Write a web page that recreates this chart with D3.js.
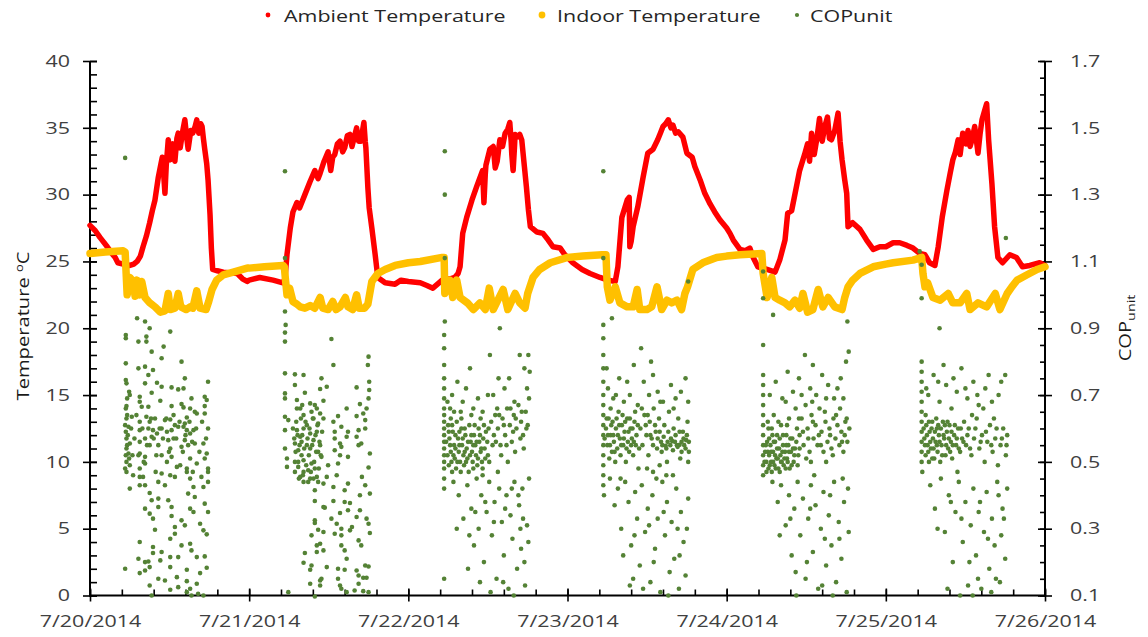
<!DOCTYPE html>
<html>
<head>
<meta charset="utf-8">
<script src="https://cdn.jsdelivr.net/npm/d3@7"></script>
<style>
  body { margin: 0; background: #fff; }
  svg { display: block; }
</style>
</head>
<body>
<svg id="chart" width="1148" height="637"></svg>
<script>
// ---------- axis labels ----------
const dayLabels = ["7/20/2014", "7/21/2014", "7/22/2014", "7/23/2014", "7/24/2014", "7/25/2014", "7/26/2014"];
const tempTicks = [0, 5, 10, 15, 20, 25, 30, 35, 40];
const copTicks = [0.1, 0.3, 0.5, 0.7, 0.9, 1.1, 1.3, 1.5, 1.7];
const seriesNames = ["Ambient Temperature", "Indoor Temperature", "COPunit"];

// ---------- ambient temperature, [hour of day, °C] ----------
const ambient0720 = [[0,27.7],[0.8,27.3],[1.5,26.8],[2.6,26.1],[3.3,25.6],[3.8,25.3],[4.2,24.9],[5,24.8],[6,24.7],[6.6,24.8],[7.1,25.0],[7.6,25.4],[8,26.1],[8.5,26.9],[9,27.9],[9.4,28.8],[9.8,29.6],[10.3,31.3],[10.7,32.3],[10.9,32.8],[11.1,31.6],[11.3,30.1],[11.5,32.2],[11.8,34.1],[12.1,32.6],[12.5,33.8],[12.8,32.5],[13.1,34.2],[13.3,34.6],[13.6,33.5],[14.0,34.8],[14.3,35.6],[14.6,34.2],[14.8,33.4],[15.2,34.8],[15.5,34.6],[15.8,35.0],[16.1,35.6],[16.4,34.6],[16.7,35.3],[16.9,35.1],[17.1,34.2],[17.3,33.4],[17.6,32.3],[17.8,31.1],[18.1,28.5],[18.3,26.0],[18.5,24.4],[19.2,24.3],[20.1,24.2],[22.2,24.1],[23.0,23.7],[23.7,23.5],[24,23.6]];
const ambient0721 = [[0,23.6],[1.6,23.8],[3.6,23.6],[5.1,23.4],[5.4,23.7],[5.7,25.5],[6.2,27.5],[6.6,28.7],[7.2,29.4],[7.6,29.0],[8.4,30.0],[9.2,31.0],[9.9,31.8],[10.4,31.2],[10.7,31.6],[11.3,32.5],[11.9,33.2],[12.3,31.8],[12.6,32.8],[12.9,33.0],[13.3,33.8],[13.7,34.0],[14.1,33.2],[14.4,33.5],[14.8,34.4],[15.2,34.5],[15.5,33.6],[15.8,34.2],[16.2,35.0],[16.5,34.0],[16.9,34.0],[17.1,34.8],[17.3,35.4],[17.5,34.0],[17.6,33.5],[17.9,30.5],[18.1,29.0],[18.5,27.5],[19.0,25.5],[19.4,23.8],[20.5,23.4],[22.0,23.3],[22.9,23.6],[24,23.5]];
const ambient0722 = [[0,23.5],[1.8,23.4],[2.8,23.2],[3.7,23.0],[4.4,23.3],[5.1,23.6],[6.3,23.7],[7.0,23.8],[7.5,24.1],[7.8,24.6],[8.2,27.1],[8.8,28.3],[9.6,29.6],[10.3,30.6],[11.2,31.8],[11.4,29.4],[11.6,31.5],[11.7,32.2],[12.3,33.4],[12.8,33.6],[13.1,32.0],[13.4,32.5],[13.8,34.1],[14.2,33.6],[14.6,34.6],[15.0,34.9],[15.3,35.4],[15.5,34.0],[15.6,33.0],[15.8,31.8],[16.0,33.5],[16.1,34.5],[16.4,34.3],[16.8,34.5],[17.1,34.1],[17.5,32.1],[17.8,30.6],[18.1,28.9],[18.4,27.6],[19.4,27.2],[20.3,27.1],[21.1,26.6],[21.8,26.1],[22.9,26.0],[23.6,25.5],[24,25.3]];
const ambient0723 = [[0,25.3],[0.8,24.9],[2.2,24.4],[3.4,24.1],[4.9,23.8],[6.1,23.6],[7.2,23.5],[7.6,24.6],[8.2,28.3],[9.0,29.6],[9.3,29.8],[9.4,26.1],[9.6,26.5],[9.9,27.6],[10.6,29.1],[11.4,31.3],[12.1,33.1],[12.9,33.4],[13.6,34.1],[14.0,34.6],[14.4,35.1],[14.8,35.3],[15.2,35.6],[15.6,35.0],[15.9,35.2],[16.3,34.6],[16.7,34.7],[17.4,34.3],[18.0,33.1],[18.8,32.8],[19.2,32.1],[20.0,31.1],[20.7,30.1],[21.5,29.3],[22.2,28.7],[23.0,28.1],[24,27.5]];
const ambient0724 = [[0,27.5],[0.5,27.1],[1.0,26.6],[2.0,25.9],[2.8,25.8],[3.5,26.0],[4.0,25.3],[4.7,24.6],[6.1,24.4],[7.3,24.2],[8.0,25.1],[8.8,26.6],[9.2,28.6],[9.8,28.8],[10.6,30.8],[11.0,31.8],[11.8,33.1],[12.2,33.8],[12.5,32.5],[12.8,34.6],[13.2,33.0],[13.6,34.2],[14.0,35.7],[14.4,34.0],[14.8,35.1],[15.2,35.8],[15.5,34.2],[15.8,34.1],[16.3,34.8],[16.8,36.1],[17.1,34.0],[17.4,32.6],[17.8,31.1],[18.1,30.1],[18.3,27.6],[19.0,27.9],[20.1,27.4],[21.1,26.6],[22.1,25.9],[23.1,26.1],[24,26.1]];
const ambient0725 = [[0,26.1],[1.1,26.4],[2.1,26.4],[3.2,26.2],[4.1,26.0],[5.1,25.6],[5.9,25.5],[6.6,24.9],[7.4,24.7],[7.9,26.1],[8.5,28.3],[9.2,30.3],[9.7,31.6],[10.1,32.6],[10.5,33.2],[10.9,34.1],[11.2,33.0],[11.6,34.6],[12.1,33.8],[12.4,34.8],[12.7,33.6],[13.0,34.1],[13.4,35.1],[13.9,33.1],[14.2,34.5],[14.5,35.6],[14.9,36.3],[15.2,36.8],[15.5,34.1],[16.0,30.8],[16.4,27.6],[16.9,25.3],[17.6,24.9],[18.7,25.5],[19.7,25.3],[20.6,24.6],[21.7,24.7],[23.2,24.9],[24,24.7]];

// ---------- indoor temperature, [hour of day, °C] ----------
const indoor0720 = [[0,25.6],[2.3,25.7],[5.0,25.8],[5.3,25.7],[5.6,22.5],[6.0,23.8],[6.5,23.5],[6.8,22.4],[7.1,23.6],[7.5,22.5],[7.8,23.5],[8.3,22.3],[9.0,21.9],[9.8,21.6],[10.6,21.2],[11.3,21.3],[11.8,22.6],[12.1,21.4],[12.8,21.5],[13.3,22.6],[13.7,21.6],[14.5,21.4],[15.1,21.6],[15.5,21.5],[16.1,22.8],[16.6,21.5],[17.5,21.4],[17.9,22.0],[18.4,22.9],[19.1,23.6],[20.1,24.0],[21.6,24.2],[23.7,24.5],[24,24.5]];
const indoor0721 = [[0,24.5],[2.3,24.6],[5.1,24.7],[5.3,24.6],[5.5,23.5],[5.7,22.5],[6.1,23.0],[6.6,22.0],[7.2,21.8],[7.7,21.6],[8.4,21.5],[9.2,21.7],[9.9,21.5],[10.7,22.3],[11.1,21.5],[11.9,21.4],[12.6,22.0],[13.1,21.4],[13.7,21.6],[14.5,22.3],[14.9,21.6],[15.6,21.4],[16.2,22.5],[16.6,21.5],[17.4,21.5],[17.9,21.8],[18.5,23.5],[19.4,24.1],[20.5,24.4],[22.0,24.7],[24,24.9]];
const indoor0722 = [[0,24.9],[1.8,25.0],[5.1,25.3],[5.4,25.3],[5.5,22.6],[6.3,23.6],[6.7,22.3],[7.3,23.6],[7.8,22.3],[8.9,21.9],[9.8,21.4],[10.8,21.9],[11.6,21.4],[12.2,23.0],[12.8,21.4],[13.5,22.1],[14.3,22.9],[15.0,21.4],[16.1,22.6],[16.8,21.9],[17.6,21.5],[18.0,22.6],[18.8,23.8],[19.8,24.4],[21.4,24.9],[24,25.3]];
const indoor0723 = [[0,25.3],[2.3,25.4],[5.2,25.5],[5.8,25.5],[6.0,23.1],[6.4,22.1],[7.2,23.1],[7.9,21.9],[9.0,21.6],[9.9,21.6],[10.5,22.9],[10.9,21.4],[12.0,21.4],[12.7,21.6],[13.5,23.1],[14.2,21.4],[15.0,22.1],[15.7,21.9],[16.5,22.1],[17.2,21.4],[17.7,22.6],[18.1,23.1],[18.9,24.4],[20.4,24.9],[22.5,25.3],[24,25.4]];
const indoor0724 = [[0,25.4],[2.0,25.5],[5.3,25.6],[5.5,24.1],[6.1,22.3],[6.8,23.8],[7.3,22.3],[8.0,22.1],[8.8,21.9],[9.5,21.6],[10.3,22.1],[11.0,21.5],[11.5,22.6],[12.2,21.2],[13.0,21.4],[13.8,22.9],[14.5,21.6],[15.3,22.3],[16.3,21.6],[17.4,21.4],[17.8,22.3],[18.3,23.1],[19.0,23.6],[20.1,24.1],[22.1,24.6],[24,24.8]];
const indoor0725 = [[0,24.8],[1.1,24.9],[4.1,25.1],[5.4,25.3],[5.6,24.1],[5.9,23.1],[6.3,23.4],[7.1,22.3],[8.2,22.1],[9.4,22.6],[10.1,21.9],[11.2,21.9],[12.2,22.6],[12.7,21.4],[13.9,21.9],[15.2,21.6],[16.5,22.6],[17.2,21.4],[18.3,22.6],[19.0,23.1],[19.8,23.6],[21.3,24.0],[22.8,24.4],[24,24.6]];

// ---------- unit COP, [hour of day, COP] ----------
const cop0720 = [[5.3,1.41],[5.4,.88],[7.1,.93],[8.3,.92],[9.0,.90],[12.1,.89],[5.4,.87],[7.3,.86],[8.5,.875],[8.5,.86],[9.3,.83],[11.1,.845],[10.8,.81],[5.4,.795],[7.3,.78],[8.3,.785],[9.5,.775],[13.8,.80],[8.8,.76],[14.3,.75],[5.4,.745],[10.1,.737],[8.3,.735],[10.8,.725],[12.3,.723],[13.3,.717],[14.1,.72],[17.8,.74],[5.5,.735],[5.9,.71],[6.0,.70],[9.3,.707],[7.5,.695],[15.3,.69],[17.3,.695],[17.6,.685],[5.5,.667],[7.5,.68],[7.8,.665],[8.8,.665],[10.6,.683],[12.3,.667],[13.8,.673],[14.1,.663],[15.1,.66],[15.8,.65],[17.3,.667],[6.3,.635],[7.5,.62],[8.5,.635],[9.0,.62],[9.8,.63],[11.3,.625],[12.1,.627],[12.8,.61],[14.3,.615],[14.6,.633],[16.1,.645],[17.3,.645],[17.8,.60],[5.3,.61],[5.8,.605],[7.5,.595],[8.8,.60],[9.5,.595],[10.1,.585],[10.8,.60],[11.6,.59],[12.3,.595],[13.3,.605],[14.1,.605],[14.6,.595],[15.1,.585],[15.6,.595],[12.6,.57],[11.8,.565],[9.3,.575],[8.3,.57],[7.5,.56],[5.5,.57],[6.0,.555],[14.3,.565],[14.8,.55],[15.8,.555],[9.0,.55],[10.3,.55],[12.1,.54],[13.8,.545],[17.1,.555],[17.6,.525],[5.5,.54],[5.8,.525],[7.5,.525],[8.3,.515],[10.8,.52],[12.3,.515],[15.1,.51],[16.1,.495],[17.3,.51],[5.5,.50],[6.0,.49],[5.3,.48],[7.5,.48],[8.3,.495],[14.6,.48],[13.1,.485],[17.8,.48],[17.8,.47],[6.5,.46],[7.5,.455],[8.0,.455],[10.8,.465],[12.1,.46],[12.8,.455],[14.6,.47],[15.1,.45],[16.8,.455],[17.8,.44],[7.5,.43],[8.3,.43],[10.3,.44],[11.3,.43],[6.0,.42],[15.6,.425],[17.1,.425],[14.8,.405],[9.0,.407],[10.3,.39],[11.8,.385],[15.8,.395],[9.3,.385],[12.3,.365],[17.3,.375],[8.3,.36],[10.3,.365],[9.0,.345],[12.3,.338],[15.1,.36],[15.6,.35],[17.8,.35],[9.5,.33],[13.8,.325],[16.6,.315],[12.8,.305],[14.3,.31],[9.8,.297],[12.1,.27],[12.8,.285],[17.6,.283],[17.1,.295],[7.5,.26],[13.8,.25],[15.1,.255],[15.3,.235],[9.5,.245],[10.8,.23],[9.5,.227],[7.3,.21],[12.1,.215],[13.3,.215],[16.1,.215],[17.3,.217],[8.3,.20],[8.8,.202],[10.6,.205],[5.3,.18],[17.6,.183],[8.3,.175],[9.0,.185],[12.1,.185],[14.6,.177],[16.6,.167],[7.5,.167],[10.3,.15],[11.3,.145],[13.1,.155],[14.6,.143],[16.1,.135],[9.0,.13],[12.1,.117],[13.3,.125],[15.1,.12],[9.3,.10],[14.6,.11],[16.3,.105],[15.3,.10],[17.1,.10],[5.4,.66],[5.5,.63],[5.4,.59],[5.6,.55],[5.4,.52],[5.5,.47],[5.6,.64],[5.7,.58],[5.9,.51],[5.6,.69],[6.2,.60],[6.7,.57],[7.0,.64],[7.3,.52],[7.9,.60],[8.6,.55],[9.2,.63],[9.6,.57],[10.0,.52],[10.5,.60],[11.0,.57],[11.5,.63],[11.9,.53],[12.6,.64],[13.0,.57],[13.5,.62],[14.0,.53],[14.4,.58],[15.0,.62],[15.4,.56],[16.0,.60],[16.5,.53],[16.9,.62],[17.5,.57],[6.4,.52],[8.1,.50],[9.9,.47],[11.6,.50],[13.6,.49],[15.5,.47]];
const cop0721 = [[5.4,1.37],[5.4,1.11],[5.4,.95],[5.5,.91],[5.4,.887],[5.4,.86],[12.4,.868],[12.7,.79],[18.0,.815],[17.9,.79],[5.4,.765],[6.9,.762],[8.2,.76],[10.9,.75],[6.9,.73],[11.7,.725],[10.7,.718],[8.4,.707],[5.4,.705],[16.2,.723],[18.1,.74],[18.1,.715],[5.4,.69],[7.2,.685],[11.2,.683],[9.2,.675],[9.9,.67],[18.0,.69],[16.7,.673],[14.7,.66],[17.7,.66],[7.7,.66],[5.4,.635],[5.9,.625],[8.2,.64],[10.7,.645],[12.7,.62],[13.4,.637],[16.2,.637],[17.2,.645],[17.5,.625],[8.7,.61],[9.7,.63],[10.4,.615],[11.2,.63],[5.4,.595],[7.2,.595],[7.7,.575],[8.2,.60],[9.2,.585],[10.2,.59],[12.9,.59],[13.9,.605],[14.9,.59],[16.5,.595],[17.5,.60],[6.9,.555],[7.9,.56],[8.7,.55],[9.7,.565],[10.7,.55],[12.9,.57],[13.7,.555],[14.7,.575],[16.2,.575],[16.9,.555],[5.4,.54],[7.4,.535],[9.2,.54],[10.4,.53],[12.9,.535],[13.9,.545],[14.9,.515],[16.5,.55],[18.2,.525],[5.7,.51],[6.9,.50],[8.2,.505],[9.4,.495],[10.9,.515],[11.9,.49],[13.7,.52],[13.4,.495],[5.7,.485],[7.4,.485],[8.2,.47],[8.9,.475],[9.9,.48],[7.7,.455],[8.2,.44],[9.2,.45],[10.2,.455],[11.7,.455],[13.2,.46],[18.0,.483],[17.0,.455],[11.2,.435],[9.9,.415],[12.7,.425],[14.9,.435],[17.5,.43],[14.4,.415],[16.7,.40],[18.2,.405],[9.9,.383],[12.7,.383],[14.4,.38],[15.2,.377],[11.2,.365],[11.4,.363],[13.7,.347],[14.9,.355],[16.7,.355],[9.9,.325],[12.4,.33],[16.2,.335],[17.7,.33],[9.9,.317],[13.2,.315],[15.5,.305],[18.0,.315],[10.4,.297],[11.2,.29],[12.9,.285],[13.9,.30],[15.2,.295],[18.2,.287],[9.4,.28],[13.9,.28],[16.5,.265],[10.7,.255],[10.2,.25],[11.2,.235],[13.9,.25],[14.4,.235],[16.9,.25],[8.4,.227],[10.2,.23],[14.7,.21],[8.2,.198],[9.4,.19],[9.2,.177],[11.7,.185],[13.4,.18],[14.4,.177],[16.2,.175],[17.5,.19],[18.0,.187],[10.9,.15],[10.7,.145],[13.4,.15],[16.5,.16],[17.2,.153],[17.7,.153],[9.2,.135],[10.7,.13],[13.7,.13],[16.5,.135],[13.9,.12],[14.7,.11],[15.9,.115],[17.2,.113],[18.0,.11],[5.9,.11],[9.9,.097],[6.6,.60],[6.8,.57],[7.0,.53],[7.1,.62],[7.3,.58],[7.4,.50],[7.6,.55],[7.8,.63],[7.9,.52],[8.0,.58],[8.3,.54],[8.5,.62],[8.6,.49],[8.8,.57],[9.0,.52],[9.1,.60],[9.3,.47],[9.5,.55],[9.6,.63],[9.8,.50],[10.0,.58],[10.1,.53],[10.3,.61],[10.5,.48],[10.6,.56],[10.8,.52],[11.0,.59],[6.9,.47],[7.5,.45],[8.1,.46],[8.9,.44],[9.7,.45],[10.4,.44],[7.2,.66],[8.0,.67],[9.4,.65],[10.2,.66]];
const cop0722 = [[5.5,1.43],[5.5,1.30],[5.5,1.11],[5.5,.92],[5.4,.88],[5.4,.84],[5.4,.79],[5.4,.75],[5.4,.72],[5.4,.69],[5.4,.66],[5.4,.64],[5.4,.62],[5.4,.60],[5.4,.58],[5.4,.56],[5.4,.54],[5.4,.52],[5.4,.50],[5.4,.48],[5.4,.45],[5.4,.42],[5.4,.15],[6.0,.61],[6.2,.57],[6.4,.53],[6.5,.50],[6.7,.59],[6.9,.55],[7.0,.51],[7.2,.48],[7.3,.62],[7.5,.57],[7.6,.53],[7.8,.50],[8.0,.60],[8.1,.55],[8.3,.52],[8.4,.49],[8.6,.58],[8.8,.54],[8.9,.51],[9.1,.47],[9.2,.61],[9.4,.56],[9.6,.53],[9.7,.50],[9.9,.58],[10.1,.55],[10.2,.52],[10.4,.49],[10.6,.60],[10.7,.56],[10.9,.53],[11.1,.50],[11.3,.57],[11.5,.54],[11.7,.59],[12.0,.52],[6.6,.70],[7.4,.74],[8.2,.68],[8.7,.72],[9.3,.78],[9.8,.66],[10.5,.69],[11.2,.65],[12.3,.82],[12.8,.70],[13.4,.66],[13.8,.90],[14.5,.72],[15.2,.75],[16.0,.68],[16.8,.82],[17.5,.78],[18.1,.82],[17.9,.72],[6.3,.66],[7.9,.65],[12.5,.62],[12.9,.58],[13.1,.64],[13.5,.60],[13.9,.55],[14.2,.63],[14.6,.58],[14.9,.66],[15.3,.61],[15.6,.56],[15.9,.64],[16.3,.60],[16.6,.67],[17.0,.62],[17.3,.58],[17.7,.65],[18.0,.61],[18.2,.69],[14.0,.52],[16.1,.53],[12.7,.55],[15.0,.50],[17.4,.54],[6.8,.44],[7.6,.40],[8.3,.33],[8.9,.43],[9.5,.36],[9.9,.25],[10.3,.45],[10.6,.30],[11.0,.40],[11.4,.20],[11.8,.35],[12.2,.44],[12.6,.28],[13.0,.38],[13.3,.15],[13.7,.42],[14.1,.32],[14.4,.22],[14.8,.40],[15.1,.12],[15.4,.34],[15.7,.27],[16.0,.44],[16.4,.18],[16.7,.37],[17.0,.24],[17.2,.42],[17.6,.13],[17.9,.31],[18.2,.45],[9.0,.18],[12.4,.11],[15.9,.10],[16.9,.30],[7.3,.30],[13.5,.47],[11.2,.46],[14.6,.36],[17.5,.20],[10.8,.14],[5.7,.56],[5.9,.52],[6.1,.49],[6.1,.59],[6.3,.55],[6.6,.47],[6.6,.61],[6.8,.52],[7.1,.58],[7.1,.54],[7.4,.50],[7.7,.59],[7.7,.55],[7.9,.47],[8.2,.57],[8.5,.53],[8.5,.60],[8.7,.50],[9.0,.56],[9.3,.52],[9.5,.58],[9.8,.48],[9.8,.55],[10.0,.61],[10.3,.56],[10.5,.51],[10.8,.58],[11.0,.54],[11.2,.48],[11.4,.61],[11.6,.51],[11.9,.56],[12.1,.60],[12.2,.50],[6.4,.63],[8.0,.63],[9.5,.64],[10.9,.63],[13.2,.56],[14.4,.61],[15.8,.59],[16.9,.57],[17.8,.60],[13.7,.64],[15.4,.66],[16.2,.63],[14.8,.55],[17.1,.65],[5.9,.68],[6.9,.65],[12.0,.70],[13.6,.75],[18.3,.77],[9.2,.28],[11.6,.38],[12.9,.32],[14.3,.14],[16.6,.40],[17.3,.33],[18.1,.26],[10.1,.35],[15.6,.42]];
const cop0723 = [[5.4,1.37],[5.4,1.11],[6.7,.93],[18.2,1.04],[5.4,.91],[5.4,.87],[5.4,.82],[5.4,.78],[5.4,.74],[5.4,.70],[5.4,.67],[5.4,.64],[5.4,.61],[5.4,.58],[5.4,.55],[5.4,.52],[5.4,.49],[5.4,.46],[5.4,.43],[5.5,.40],[5.8,.60],[6.0,.55],[6.2,.63],[6.3,.51],[6.5,.58],[6.7,.53],[6.8,.62],[7.0,.56],[7.2,.50],[7.3,.60],[7.5,.54],[7.7,.65],[7.9,.57],[8.0,.52],[8.2,.61],[8.4,.55],[8.6,.59],[8.8,.50],[9.0,.63],[9.1,.56],[9.3,.53],[9.5,.60],[9.7,.57],[9.9,.52],[10.1,.62],[10.3,.55],[11.0,.60],[11.3,.55],[11.6,.64],[11.9,.58],[12.2,.52],[12.4,.62],[12.7,.57],[13.0,.66],[13.3,.59],[13.5,.54],[13.8,.63],[14.1,.56],[14.3,.55],[14.6,.61],[14.8,.548],[15.1,.56],[15.3,.65],[15.5,.55],[15.8,.562],[16.0,.60],[16.2,.56],[16.5,.55],[16.7,.63],[16.9,.551],[17.2,.56],[17.4,.59],[17.6,.55],[17.9,.565],[18.1,.62],[18.3,.56],[15.0,.50],[17.0,.51],[13.9,.49],[12.0,.48],[18.2,.50],[6.1,.72],[6.9,.69],[7.8,.75],[8.5,.68],[9.4,.70],[10.0,.79],[10.6,.67],[11.1,.84],[11.5,.74],[12.3,.70],[12.9,.76],[13.6,.71],[14.4,.68],[15.6,.73],[16.3,.69],[17.1,.71],[17.8,.75],[18.2,.68],[12.6,.80],[6.4,.45],[7.1,.37],[7.6,.42],[8.1,.30],[8.7,.44],[9.2,.38],[9.6,.25],[10.2,.41],[10.5,.33],[10.9,.19],[11.2,.43],[11.7,.29],[12.1,.36],[12.5,.14],[12.8,.40],[13.2,.24],[13.6,.33],[14.0,.11],[14.3,.44],[14.7,.28],[15.0,.38],[15.4,.17],[15.7,.32],[16.1,.21],[16.4,.42],[16.8,.12],[17.1,.35],[17.5,.26],[17.8,.16],[18.2,.39],[9.9,.15],[13.0,.20],[15.2,.10],[16.6,.30],[11.4,.12],[14.9,.46],[8.4,.22],[10.7,.48],[12.9,.47],[5.6,.57],[5.9,.63],[6.1,.58],[6.4,.55],[6.6,.61],[6.9,.58],[7.1,.53],[7.4,.63],[7.6,.58],[7.8,.61],[8.1,.55],[8.3,.64],[8.5,.57],[8.7,.62],[8.9,.54],[9.2,.59],[9.4,.63],[9.6,.55],[9.8,.60],[10.0,.56],[10.2,.65],[10.4,.58],[10.6,.61],[10.8,.54],[12.5,.58],[12.9,.55],[13.2,.61],[13.6,.57],[13.9,.59],[14.2,.53],[14.5,.575],[14.9,.54],[15.2,.59],[15.6,.57],[15.9,.535],[16.3,.58],[16.6,.545],[16.9,.59],[17.2,.53],[17.5,.57],[17.8,.54],[18.0,.58],[18.3,.53],[11.8,.61],[11.2,.66],[12.1,.64],[14.0,.68],[16.0,.66],[6.5,.66],[7.3,.70],[9.0,.74],[5.9,.78],[8.0,.45],[13.4,.45],[15.9,.46],[10.1,.28],[12.3,.31],[14.5,.35],[16.9,.22],[18.0,.30],[9.4,.13]];
const cop0724 = [[5.5,1.07],[5.5,.99],[7.0,.94],[18.2,.92],[5.5,.85],[5.5,.76],[5.5,.73],[5.5,.70],[5.5,.67],[5.5,.64],[5.5,.61],[5.5,.58],[5.5,.55],[5.5,.52],[5.5,.49],[5.5,.46],[5.8,.53],[6.0,.50],[6.1,.56],[6.3,.48],[6.4,.52],[6.6,.55],[6.7,.50],[6.9,.58],[7.0,.53],[7.2,.49],[7.3,.56],[7.5,.51],[7.6,.54],[7.8,.48],[8.0,.57],[8.1,.52],[8.3,.50],[8.5,.55],[8.6,.49],[8.8,.53],[9.0,.58],[9.1,.51],[9.3,.55],[9.5,.48],[9.7,.53],[9.9,.57],[10.1,.50],[10.3,.54],[10.6,.60],[10.8,.52],[6.2,.62],[7.1,.64],[8.2,.61],[9.4,.63],[10.4,.66],[6.8,.60],[11.0,.58],[11.3,.63],[11.6,.55],[11.9,.67],[12.2,.60],[12.5,.53],[12.8,.64],[13.1,.57],[13.4,.61],[13.7,.55],[14.0,.66],[14.3,.59],[14.6,.53],[14.9,.62],[15.2,.56],[15.5,.60],[15.8,.54],[16.1,.63],[16.4,.57],[16.7,.61],[17.0,.55],[17.3,.59],[17.6,.53],[17.9,.62],[18.2,.56],[18.5,.60],[12.0,.51],[15.0,.50],[17.1,.66],[6.5,.70],[7.4,.74],[8.4,.69],[9.2,.77],[10.0,.71],[10.9,.75],[11.8,.82],[12.6,.72],[13.5,.70],[14.4,.76],[15.3,.73],[16.2,.69],[17.2,.75],[18.0,.80],[18.4,.83],[8.9,.68],[13.0,.79],[6.9,.44],[7.7,.38],[8.2,.43],[8.9,.31],[9.4,.40],[9.8,.22],[10.2,.36],[10.7,.44],[11.1,.28],[11.5,.39],[11.9,.15],[12.3,.33],[12.7,.43],[13.0,.23],[13.4,.37],[13.8,.12],[14.2,.30],[14.6,.41],[15.0,.19],[15.4,.34],[15.8,.25],[16.2,.44],[16.5,.14],[16.9,.32],[17.3,.21],[17.7,.38],[18.1,.11],[18.4,.29],[10.5,.10],[12.1,.20],[14.8,.27],[16.0,.10],[17.5,.45],[13.2,.46],[9.6,.33],[5.7,.50],[5.9,.55],[6.0,.47],[6.2,.53],[6.4,.57],[6.5,.49],[6.7,.53],[6.8,.47],[7.0,.50],[7.1,.56],[7.3,.52],[7.4,.48],[7.6,.58],[7.7,.51],[7.9,.54],[8.0,.47],[8.2,.50],[8.4,.53],[8.5,.58],[8.7,.51],[8.9,.48],[9.0,.55],[9.2,.50],[9.4,.53],[9.6,.57],[9.8,.49],[10.0,.54],[10.2,.52],[10.5,.56],[10.7,.49],[11.0,.54],[6.3,.60],[7.8,.62],[9.1,.61],[10.9,.63],[11.5,.59],[12.3,.57],[13.0,.62],[13.9,.58],[14.8,.65],[15.6,.58],[16.5,.64],[17.4,.56],[18.1,.63],[12.7,.50],[14.2,.55],[16.0,.52],[17.8,.58],[11.3,.70],[12.9,.68],[15.0,.69],[16.7,.72],[17.6,.69],[8.0,.28],[10.4,.17],[12.6,.36],[14.4,.13],[15.6,.40],[17.0,.27],[18.3,.42]];
const cop0725 = [[5.1,1.13],[5.4,1.09],[5.4,.99],[18.1,1.17],[8.1,.90],[5.4,.80],[5.4,.77],[5.4,.74],[5.4,.71],[5.4,.68],[5.4,.65],[5.4,.62],[5.4,.59],[5.4,.56],[5.4,.53],[5.4,.50],[5.5,.47],[5.8,.57],[6.0,.52],[6.1,.61],[6.3,.55],[6.5,.50],[6.6,.59],[6.8,.54],[7.0,.62],[7.1,.57],[7.3,.51],[7.5,.56],[7.7,.60],[7.8,.53],[8.0,.58],[8.2,.50],[8.4,.55],[8.6,.62],[8.8,.57],[9.0,.52],[9.2,.59],[9.4,.54],[9.6,.61],[9.8,.56],[10.0,.51],[10.3,.58],[10.6,.55],[10.9,.60],[11.2,.53],[11.5,.57],[11.8,.62],[12.1,.55],[12.5,.60],[12.9,.52],[13.3,.57],[13.7,.63],[14.1,.54],[14.5,.58],[14.9,.50],[15.3,.56],[15.7,.61],[16.1,.53],[16.5,.57],[16.9,.49],[17.3,.55],[17.7,.60],[18.1,.52],[18.3,.58],[6.4,.70],[7.2,.76],[8.1,.68],[9.1,.73],[9.9,.66],[10.7,.71],[11.4,.78],[12.3,.69],[13.2,.74],[14.0,.67],[15.0,.72],[16.0,.68],[17.0,.70],[18.0,.76],[8.7,.79],[6.7,.43],[7.4,.36],[8.3,.45],[8.9,.29],[9.5,.40],[10.1,.20],[10.5,.35],[11.0,.44],[11.6,.26],[12.0,.38],[12.4,.13],[12.8,.31],[13.2,.42],[13.6,.22],[14.0,.35],[14.4,.12],[14.8,.29],[15.2,.41],[15.6,.18],[16.0,.33],[16.4,.25],[16.8,.44],[17.2,.14],[17.6,.36],[18.0,.21],[18.3,.42],[9.3,.12],[11.2,.10],[13.9,.15],[15.9,.11],[17.4,.28],[10.8,.47],[5.7,.60],[5.9,.55],[6.0,.64],[6.2,.58],[6.4,.53],[6.5,.62],[6.7,.56],[6.9,.60],[7.0,.51],[7.2,.54],[7.4,.59],[7.6,.63],[7.7,.55],[7.9,.61],[8.1,.56],[8.3,.60],[8.5,.52],[8.7,.58],[8.9,.61],[9.1,.55],[9.3,.62],[9.5,.57],[9.7,.53],[9.9,.59],[10.1,.55],[10.4,.61],[10.7,.57],[11.0,.54],[11.3,.60],[11.7,.56],[12.3,.58],[12.7,.54],[13.5,.60],[14.3,.56],[15.1,.59],[15.9,.55],[16.7,.60],[17.5,.57],[18.2,.55],[13.0,.64],[14.7,.66],[16.3,.63],[6.1,.72],[7.9,.74],[10.2,.75],[12.0,.72],[13.8,.70],[15.5,.76],[17.4,.74],[7.8,.30],[9.8,.38],[11.4,.33],[12.6,.20],[14.2,.38],[15.4,.27],[16.6,.15],[17.8,.33],[13.1,.10],[17.0,.40]];

const ambientDays = [ambient0720, ambient0721, ambient0722, ambient0723, ambient0724, ambient0725];
const indoorDays = [indoor0720, indoor0721, indoor0722, indoor0723, indoor0724, indoor0725];
const copDays = [cop0720, cop0721, cop0722, cop0723, cop0724, cop0725];

// flatten per-day readings onto a continuous hour axis
const flatten = days => days.flatMap((arr, i) => arr.map(([h, v]) => ({ t: i * 24 + h, v })));
const ambient = flatten(ambientDays);
const indoor = flatten(indoorDays);
const cop = flatten(copDays);

// ---------- layout ----------
const FONT = "'Open Sans', sans-serif";
const SX = 1.3;               // wide lettering
const X0 = 90, X1 = 1045, Y0 = 595.5, Y1 = 61;
const TXT = "#404040";

const svg = d3.select("#chart");

const x = d3.scaleLinear().domain([0, 24 * (dayLabels.length - 1)]).range([X0, X1]);
const yT = d3.scaleLinear().domain([tempTicks[0], tempTicks[tempTicks.length - 1]]).range([Y0, Y1]);
const yC = d3.scaleLinear().domain([copTicks[0], copTicks[copTicks.length - 1]]).range([Y0, Y1]);

// widen text along its reading direction, keeping its anchor point
function stretch(sel) {
  sel.each(function () {
    const t = d3.select(this);
    const tx = +t.attr("x") || 0, ty = +t.attr("y") || 0;
    t.attr("x", null).attr("y", null)
     .attr("transform", `translate(${tx},${ty}) scale(${SX},1)`);
  });
}

function addAxis(gen, tx, ty, labels) {
  const g = svg.append("g").attr("transform", `translate(${tx},${ty})`).call(gen);
  g.select(".domain").remove();
  g.selectAll("line").attr("stroke", "#000").attr("stroke-width", 1.6);
  if (labels) {
    g.attr("font-family", FONT).attr("font-size", 16.5);
    g.selectAll("text").attr("fill", TXT);
    stretch(g.selectAll("text"));
  }
  return g;
}

const dayTicks = dayLabels.map((_, i) => i * 24);
const minorHours = d3.range(0, 24 * (dayLabels.length - 1) + 0.01, 4.8);
const minorTemp = d3.range(0, 40.01, 1);
const minorCop = d3.range(0.1, 1.7001, 0.05);

// left axis (temperature)
addAxis(d3.axisLeft(yT).tickValues(minorTemp).tickSize(-7).tickFormat(""), X0, 0, false);
addAxis(d3.axisLeft(yT).tickValues(tempTicks).tickSize(-7).tickFormat(""), X0, 0, false);
addAxis(d3.axisLeft(yT).tickValues(tempTicks).tickSize(7).tickSizeOuter(0).tickPadding(13), X0, 0, true);

// right axis (COP)
addAxis(d3.axisRight(yC).tickValues(minorCop).tickSize(-5).tickFormat(""), X1, 0, false);
addAxis(d3.axisRight(yC).tickValues(copTicks).tickSize(-7).tickFormat(""), X1, 0, false);
addAxis(d3.axisRight(yC).tickValues(copTicks).tickSize(7).tickSizeOuter(0).tickPadding(18).tickFormat(d3.format(".1f")), X1, 0, true);

// bottom axis (date)
addAxis(d3.axisBottom(x).tickValues(minorHours).tickSize(-6).tickFormat(""), 0, Y0, false);
addAxis(d3.axisBottom(x).tickValues(dayTicks).tickSize(-7).tickFormat(""), 0, Y0, false);
addAxis(d3.axisBottom(x).tickValues(dayTicks).tickSize(6).tickSizeOuter(0).tickPadding(14)
  .tickFormat((d, i) => dayLabels[i]), 0, Y0, true);

// axis lines
const axisLines = svg.append("g").attr("stroke", "#000").attr("stroke-width", 2);
axisLines.append("line").attr("x1", X0).attr("x2", X0).attr("y1", yT(40)).attr("y2", Y0 + 1);
axisLines.append("line").attr("x1", X1).attr("x2", X1).attr("y1", yC(1.7)).attr("y2", Y0 + 1);
axisLines.append("line").attr("x1", X0 - 1).attr("x2", X1 + 1).attr("y1", Y0).attr("y2", Y0);

// ---------- series ----------
const lineT = d3.line().x(d => x(d.t)).y(d => yT(d.v));

svg.append("path").datum(ambient)
  .attr("d", lineT).attr("fill", "none")
  .attr("stroke", "#FF0000").attr("stroke-width", 5.5)
  .attr("stroke-linejoin", "round").attr("stroke-linecap", "round");

svg.append("path").datum(indoor)
  .attr("d", lineT).attr("fill", "none")
  .attr("stroke", "#FFC000").attr("stroke-width", 7.5)
  .attr("stroke-linejoin", "round").attr("stroke-linecap", "round");

svg.append("g").selectAll("circle").data(cop).join("circle")
  .attr("cx", d => x(d.t)).attr("cy", d => yC(d.v))
  .attr("r", 2.3).attr("fill", "#548235");

// ---------- axis titles ----------
const tTitle = svg.append("text")
  .attr("transform", `translate(29,326) rotate(-90) scale(${SX},1)`)
  .attr("text-anchor", "middle")
  .attr("font-family", FONT).attr("font-size", 15.5).attr("fill", "#1a1a1a");
tTitle.append("tspan").text("Temperature ");
tTitle.append("tspan").text("o").attr("font-size", 10).attr("dy", -6);
tTitle.append("tspan").text("C").attr("dy", 6);

const cTitle = svg.append("text")
  .attr("transform", `translate(1131,328) rotate(-90) scale(${SX},1)`)
  .attr("text-anchor", "middle")
  .attr("font-family", FONT).attr("font-size", 15.5).attr("fill", "#1a1a1a");
cTitle.append("tspan").text("COP");
cTitle.append("tspan").text("unit").attr("font-size", 11).attr("dy", 4);

// ---------- legend ----------
const legendItems = [
  { name: seriesNames[0], color: "#FF0000", r: 2.4, dot: 268, text: 284 },
  { name: seriesNames[1], color: "#FFC000", r: 3.4, dot: 542, text: 557 },
  { name: seriesNames[2], color: "#548235", r: 2.1, dot: 797, text: 810 }
];
const lg = svg.append("g");
legendItems.forEach(it => {
  lg.append("circle").attr("cx", it.dot).attr("cy", 15).attr("r", it.r).attr("fill", it.color);
  lg.append("text").attr("x", it.text).attr("y", 22)
    .attr("font-family", FONT).attr("font-size", 16.5).attr("fill", "#262626")
    .text(it.name);
});
stretch(lg.selectAll("text"));
</script>
</body>
</html>
